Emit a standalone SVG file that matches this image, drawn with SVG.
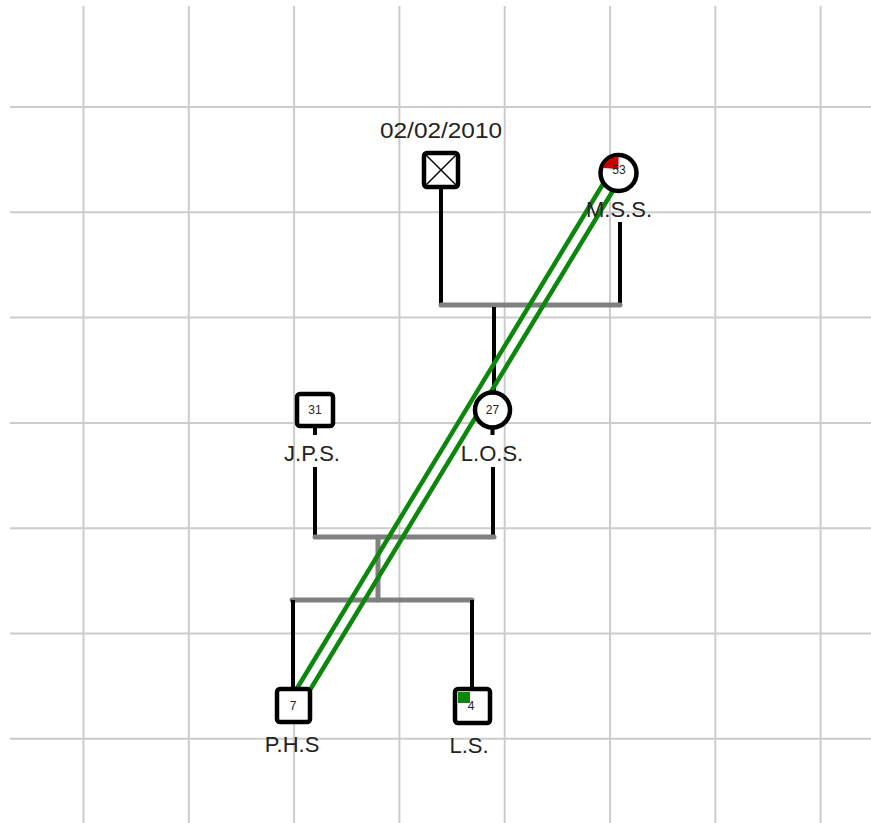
<svg xmlns="http://www.w3.org/2000/svg" width="871" height="823" viewBox="0 0 871 823">
<style>
.grid line{stroke:#cccccc;stroke-width:2}
.blk{stroke:#000;stroke-width:4;fill:none}
.gry{stroke:#808080;stroke-width:5;fill:none;stroke-linecap:round}
.grn{stroke:#0b870b;stroke-width:4.5;fill:none}
.node{fill:#fff;stroke:#000;stroke-width:4.5}
.lbl{font-family:"Liberation Sans",Arial,sans-serif;font-size:22px;fill:#222;text-anchor:middle}
.num{font-family:"Liberation Sans",Arial,sans-serif;font-size:12px;fill:#222;text-anchor:middle}
</style>
<rect width="871" height="823" fill="#fff"/>
<g class="grid">
<line x1="83.5" y1="6" x2="83.5" y2="823"/>
<line x1="188.8" y1="6" x2="188.8" y2="823"/>
<line x1="294.1" y1="6" x2="294.1" y2="823"/>
<line x1="399.4" y1="6" x2="399.4" y2="823"/>
<line x1="504.7" y1="6" x2="504.7" y2="823"/>
<line x1="610" y1="6" x2="610" y2="823"/>
<line x1="715.3" y1="6" x2="715.3" y2="823"/>
<line x1="820.6" y1="6" x2="820.6" y2="823"/>
<line x1="10" y1="107" x2="871" y2="107"/>
<line x1="10" y1="212.3" x2="871" y2="212.3"/>
<line x1="10" y1="317.6" x2="871" y2="317.6"/>
<line x1="10" y1="422.9" x2="871" y2="422.9"/>
<line x1="10" y1="528.2" x2="871" y2="528.2"/>
<line x1="10" y1="633.5" x2="871" y2="633.5"/>
<line x1="10" y1="738.8" x2="871" y2="738.8"/>
</g>
<g id="connectors">
<line class="blk" x1="441" y1="189" x2="441" y2="305"/>
<line class="blk" x1="620" y1="222" x2="620" y2="305"/>
<line class="gry" x1="441" y1="305" x2="620" y2="305"/>
<line class="blk" x1="494" y1="307" x2="494" y2="392"/>
<line class="blk" x1="315" y1="426" x2="315" y2="435"/>
<line class="blk" x1="492.5" y1="428" x2="492.5" y2="435"/>
<line class="blk" x1="315" y1="467" x2="315" y2="537"/>
<line class="blk" x1="493" y1="467" x2="493" y2="537"/>
<line class="gry" x1="315" y1="537" x2="494" y2="537"/>
<line class="gry" x1="378" y1="537" x2="378" y2="600"/>
<line class="gry" x1="292" y1="600" x2="472" y2="600"/>
<line class="blk" x1="293" y1="600" x2="293" y2="688"/>
<line class="blk" x1="472" y1="600" x2="472" y2="688"/>
<line class="grn" x1="603" y1="184" x2="296" y2="690"/>
<line class="grn" x1="617" y1="184" x2="310" y2="690"/>
</g>
<g id="n-deceased">
<text class="lbl" x="441" y="138" textLength="122" lengthAdjust="spacingAndGlyphs">02/02/2010</text>
<rect class="node" x="424" y="153" width="34" height="34" rx="3"/>
<line x1="426" y1="155" x2="456" y2="185" stroke="#000" stroke-width="1.5"/>
<line x1="456" y1="155" x2="426" y2="185" stroke="#000" stroke-width="1.5"/>
</g>
<g id="n-mss">
<circle class="node" cx="618.5" cy="173" r="18"/>
<path d="M618.5,169 L603,168 A15.8,15.8 0 0 1 618.5,157 Z" fill="#cc0000"/>
<text class="num" x="619" y="174">53</text>
<text class="lbl" x="619" y="217">M.S.S.</text>
</g>
<g id="n-jps">
<rect class="node" x="297" y="394" width="36" height="32" rx="3"/>
<text class="num" x="315" y="414">31</text>
<text class="lbl" x="312" y="461">J.P.S.</text>
</g>
<g id="n-los">
<circle class="node" cx="492.5" cy="410" r="17.5"/>
<text class="num" x="492.5" y="414">27</text>
<text class="lbl" x="492" y="461">L.O.S.</text>
</g>
<g id="n-phs">
<rect class="node" x="277" y="689" width="33" height="33" rx="3"/>
<text class="num" x="293" y="710">7</text>
<text class="lbl" x="292" y="752">P.H.S</text>
</g>
<g id="n-ls">
<rect class="node" x="455" y="689" width="35" height="34" rx="3"/>
<rect x="458" y="692" width="12" height="11" fill="#0b870b"/>
<text class="num" x="471" y="710">4</text>
<text class="lbl" x="469" y="753">L.S.</text>
</g>
</svg>
